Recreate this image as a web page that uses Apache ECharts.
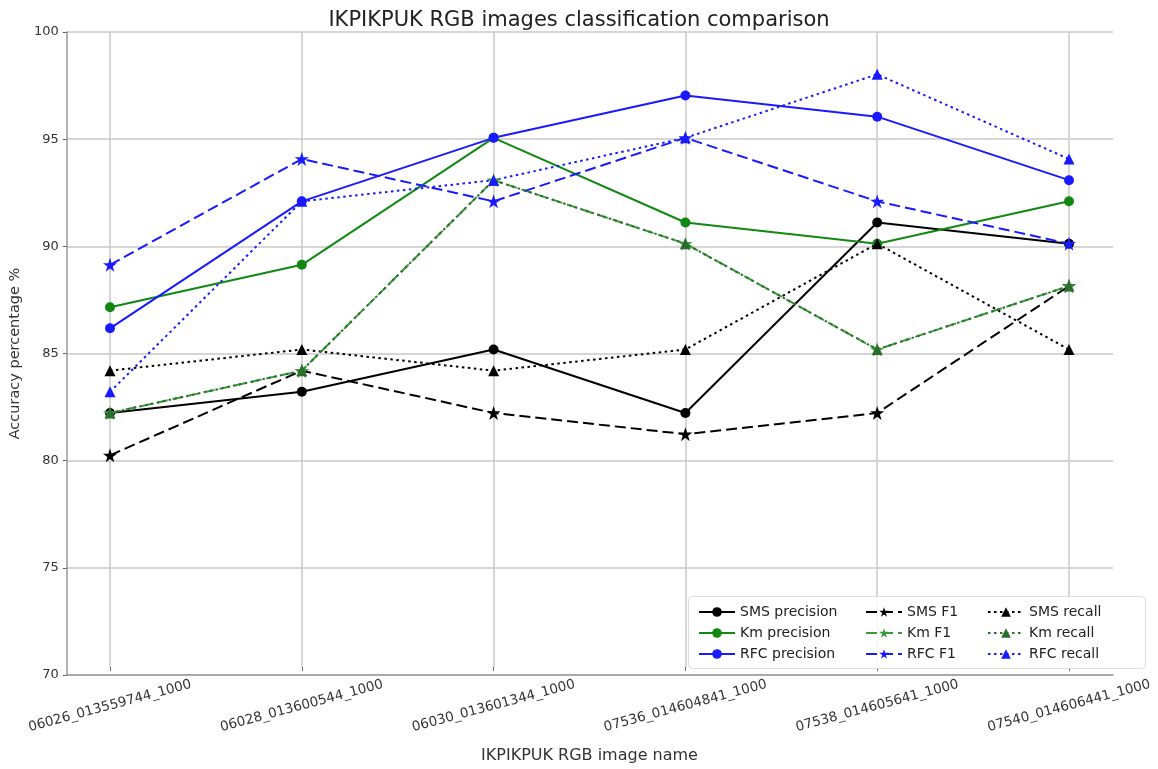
<!DOCTYPE html>
<html>
<head>
<meta charset="utf-8">
<title>IKPIKPUK RGB images classification comparison</title>
<script src="https://cdn.jsdelivr.net/npm/echarts@6/dist/echarts.min.js"></script>
<style>
  html, body { margin: 0; padding: 0; background: #ffffff; }
  #chart { width: 1158px; height: 769px; }
</style>
</head>
<body>
<div id="chart"></div>
<script>
// Image names along the x axis
const categories = [
  '06026_013559744_1000',
  '06028_013600544_1000',
  '06030_013601344_1000',
  '07536_014604841_1000',
  '07538_014605641_1000',
  '07540_014606441_1000'
];

// Accuracy values (%) per method and metric
const smsPrecision = [82, 83, 85, 82, 91, 90];
const kmPrecision  = [87, 89, 95, 91, 90, 92];
const rfcPrecision = [86, 92, 95, 97, 96, 93];
const smsF1        = [80, 84, 82, 81, 82, 88];
const kmF1         = [82, 84, 93, 90, 85, 88];
const rfcF1        = [89, 94, 92, 95, 92, 90];
const smsRecall    = [84, 85, 84, 85, 90, 85];
const kmRecall     = [82, 84, 93, 90, 85, 88];
const rfcRecall    = [83, 92, 93, 95, 98, 94];

// Y axis range and step
const yMin = 70, yMax = 100, yStep = 5;

const FONT = 'DejaVu Sans';
const GRID_COLOR = '#c9c9c9';
const DASHED = [11, 5];
const DOTTED = [2.5, 3.5];

function lineSeries(name, data, color, dash, symbol, size) {
  return {
    name: name,
    type: 'line',
    xAxisIndex: 1,
    yAxisIndex: 1,
    data: data,
    symbol: symbol,
    symbolSize: size,
    showSymbol: true,
    color: color,
    itemStyle: { color: color, borderWidth: 0 },
    lineStyle: { color: color, width: 2, type: dash },
    emphasis: { disabled: true },
    animation: false
  };
}

const STAR = 'path://M50,0 L61.8,35.3 L98.9,35.3 L68.9,57.1 L80.3,92.7 L50,70.9 L19.7,92.7 L31.1,57.1 L1.1,35.3 L38.2,35.3 Z';
const TRI = 'triangle';

const series = [
  lineSeries('SMS precision', smsPrecision, '#000000', 'solid', 'circle', 10),
  lineSeries('Km precision',  kmPrecision,  '#118811', 'solid', 'circle', 10),
  lineSeries('RFC precision', rfcPrecision, '#1a1aff', 'solid', 'circle', 10),
  lineSeries('SMS F1',        smsF1,        '#000000', DASHED, STAR, 14),
  lineSeries('Km F1',         kmF1,         '#3a9a3a', DASHED, STAR, 14),
  lineSeries('RFC F1',        rfcF1,        '#1a1aff', DASHED, STAR, 14),
  lineSeries('SMS recall',    smsRecall,    '#000000', DOTTED, TRI, 11),
  lineSeries('Km recall',     kmRecall,     '#2c6e2c', DOTTED, TRI, 11),
  lineSeries('RFC recall',    rfcRecall,    '#1a1aff', DOTTED, TRI, 11)
];

function legendColumn(names, left) {
  return {
    data: names,
    orient: 'vertical',
    left: left,
    top: 605,
    itemWidth: 36,
    itemHeight: 12,
    itemGap: 7,
    padding: 0,
    selectedMode: false,
    textStyle: { fontFamily: FONT, fontSize: 14, color: '#222' },
    z: 10
  };
}

const chart = echarts.init(document.getElementById('chart'), null, { renderer: 'canvas' });

chart.setOption({
  backgroundColor: '#ffffff',
  animation: false,
  title: {
    text: 'IKPIKPUK RGB images classification comparison',
    left: 'center',
    top: 5,
    textStyle: { fontFamily: FONT, fontSize: 21, fontWeight: 'normal', color: '#222' }
  },
  grid: [
    // frame with axis margins
    { left: 65, right: 45, top: 32, bottom: 94, containLabel: false },
    // data area spanning first to last category
    { left: 110, right: 89, top: 32, bottom: 94, containLabel: false }
  ],
  xAxis: [
    {
      type: 'value', gridIndex: 0, min: 0, max: 1,
      axisLine: { show: true, lineStyle: { color: '#9a9a9a', width: 1.5 } },
      axisTick: { show: false }, axisLabel: { show: false }, splitLine: { show: false }
    },
    {
      type: 'category', gridIndex: 1, data: categories, boundaryGap: false,
      axisLine: { show: false },
      axisTick: { show: true, length: 4, inside: false, lineStyle: { color: '#666' } },
      splitLine: { show: true, lineStyle: { color: GRID_COLOR, width: 1.5 } },
      axisLabel: {
        rotate: 15, align: 'center', verticalAlign: 'middle', margin: 39,
        fontFamily: FONT, fontSize: 13.5, color: '#333', interval: 0
      },
      name: 'IKPIKPUK RGB image name', nameLocation: 'middle', nameGap: 81,
      nameTextStyle: { fontFamily: FONT, fontSize: 16, color: '#333' }
    }
  ],
  yAxis: [
    {
      type: 'value', gridIndex: 0, min: yMin, max: yMax, interval: yStep,
      axisLine: { show: true, lineStyle: { color: '#9a9a9a', width: 1.5 } },
      axisTick: { show: true, length: 4, lineStyle: { color: '#666' } },
      splitLine: { show: true, lineStyle: { color: GRID_COLOR, width: 1.5 } },
      axisLabel: { fontFamily: FONT, fontSize: 13, color: '#333', margin: 8 },
      name: 'Accuracy percentage %', nameLocation: 'middle', nameGap: 38, nameRotate: 90,
      nameTextStyle: { fontFamily: FONT, fontSize: 14.5, color: '#333' }
    },
    {
      type: 'value', gridIndex: 1, min: yMin, max: yMax, interval: yStep, show: false,
      splitLine: { show: false }
    }
  ],
  legend: [
    legendColumn(['SMS precision', 'Km precision', 'RFC precision'], 698),
    legendColumn(['SMS F1', 'Km F1', 'RFC F1'], 865),
    legendColumn(['SMS recall', 'Km recall', 'RFC recall'], 987)
  ],
  graphic: [
    {
      type: 'rect', left: 688, top: 596, z: 5,
      shape: { width: 457, height: 72, r: 4 },
      style: { fill: 'rgba(255,255,255,0.85)', stroke: '#dddddd', lineWidth: 1 }
    }
  ],
  series: series
});
</script>
</body>
</html>
